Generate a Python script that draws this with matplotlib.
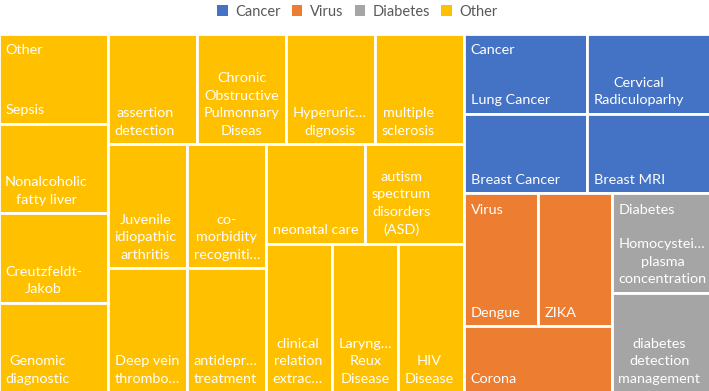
import matplotlib.pyplot as plt
from matplotlib.patches import Rectangle, Patch

# treemap data (every leaf counts once)
group_names = ["Other", "Cancer", "Virus", "Diabetes"]
legend_order = ["Cancer", "Virus", "Diabetes", "Other"]
group_colors = {"Cancer": "#4472C4", "Virus": "#ED7D31",
                "Diabetes": "#A5A5A5", "Other": "#FFC000"}

other_labels = ["Sepsis", "Nonalcoholic\nfatty liver", "Creutzfeldt-\nJakob",
                "Genomic\ndiagnostic", "assertion\ndetection",
                "Chronic\nObstructive\nPulmonnary\nDiseas",
                "Hyperuric…\ndignosis", "multiple\nsclerosis",
                "Juvenile\nidiopathic\narthritis", "Deep vein\nthrombo…",
                "co-\nmorbidity\nrecogniti…", "antidepr…\ntreatment",
                "neonatal care", "autism\nspectrum\ndisorders\n(ASD)",
                "clinical\nrelation\nextrac…", "Laryng…\nReux\nDisease",
                "HIV\nDisease"]
other_values = [1, 1, 1, 1, 1, 1, 1, 1, 1, 1, 1, 1, 1, 1, 1, 1, 1]

cancer_labels = ["Lung Cancer", "Breast Cancer", "Cervical\nRadiculoparhy", "Breast MRI"]
cancer_values = [1, 1, 1, 1]

virus_labels = ["Dengue", "ZIKA", "Corona"]
virus_values = [1, 1, 1]

diabetes_labels = ["Homocystei…\nplasma\nconcentration", "diabetes\ndetection\nmanagement"]
diabetes_values = [1, 1]

leaves = {"Other": (other_labels, other_values),
          "Cancer": (cancer_labels, cancer_values),
          "Virus": (virus_labels, virus_values),
          "Diabetes": (diabetes_labels, diabetes_values)}

# strip sizes Excel used for the big group (None = greedy squarify)
strip_plans = {"Other": [4, 4, 2, 2, 2, 3]}


def worst_ratio(areas, side):
    t = sum(areas) / side
    return max(max(t / (a / t), (a / t) / t) for a in areas)


def layout(values, x, y, w, h, plan=None):
    """Strip-based squarified layout, returns list of (x, y, w, h)."""
    total = float(sum(values))
    areas = [v * w * h / total for v in values]
    rects = []
    i, step = 0, 0
    n = len(areas)
    while i < n:
        vertical = w >= h
        side = h if vertical else w
        if plan is not None:
            k = plan[step]
        else:
            k = 1
            while i + k < n and worst_ratio(areas[i:i + k + 1], side) <= worst_ratio(areas[i:i + k], side):
                k += 1
        chunk = areas[i:i + k]
        if i + k == n and k > 1 and plan is not None:
            # last strip: spread items along the longer side
            if vertical:
                for a in chunk:
                    rects.append((x, y, a / h, h))
                    x += a / h
            else:
                for a in chunk:
                    rects.append((x, y, w, a / w))
                    y += a / w
        elif vertical:
            t = sum(chunk) / h
            yy = y
            for a in chunk:
                rects.append((x, yy, t, a / t))
                yy += a / t
            x += t
            w -= t
        else:
            t = sum(chunk) / w
            xx = x
            for a in chunk:
                rects.append((xx, y, a / t, t))
                xx += a / t
            y += t
            h -= t
        i += k
        step += 1
    return rects


FONT = "Lato"
fig = plt.figure(figsize=(7.09, 3.91), dpi=100)
left, top, right, bottom = -1.4, 34.0, 710.4, 392.4
ax = fig.add_axes([left / 709, 1 - bottom / 391, (right - left) / 709, (bottom - top) / 391])
aw, ah = right - left, bottom - top
ax.set_xlim(0, aw)
ax.set_ylim(ah, 0)
ax.axis("off")

group_totals = [sum(leaves[g][1]) for g in group_names]
group_rects = layout(group_totals, 0, 0, aw, ah)

for g, (gx, gy, gw, gh) in zip(group_names, group_rects):
    labels, values = leaves[g]
    cells = layout(values, gx, gy, gw, gh, strip_plans.get(g))
    for j, (lab, (cx, cy, cw, ch)) in enumerate(zip(labels, cells)):
        ax.add_patch(Rectangle((cx, cy), cw, ch, facecolor=group_colors[g],
                               edgecolor="white", linewidth=2.0))
        ax.text(cx + 6.5, cy + ch - 7.5, lab, ha="left", va="bottom",
                multialignment="center", color="white", fontsize=10.4,
                family=FONT, linespacing=1.55)
        if j == 0:
            ax.text(cx + 6.5, cy + 10.5, g, ha="left", va="top", color="white",
                    fontsize=10.4, family=FONT)

handles = [Patch(facecolor=group_colors[g], label=g) for g in legend_order]
fig.legend(handles=handles, loc="upper center", bbox_to_anchor=(0.504, 1.022),
           ncol=4, frameon=False, handlelength=0.7, handleheight=0.7,
           handletextpad=0.5, columnspacing=0.8,
           prop={"family": FONT, "size": 10.5}, labelcolor="#595959")

fig.savefig("out.png", dpi=100)
